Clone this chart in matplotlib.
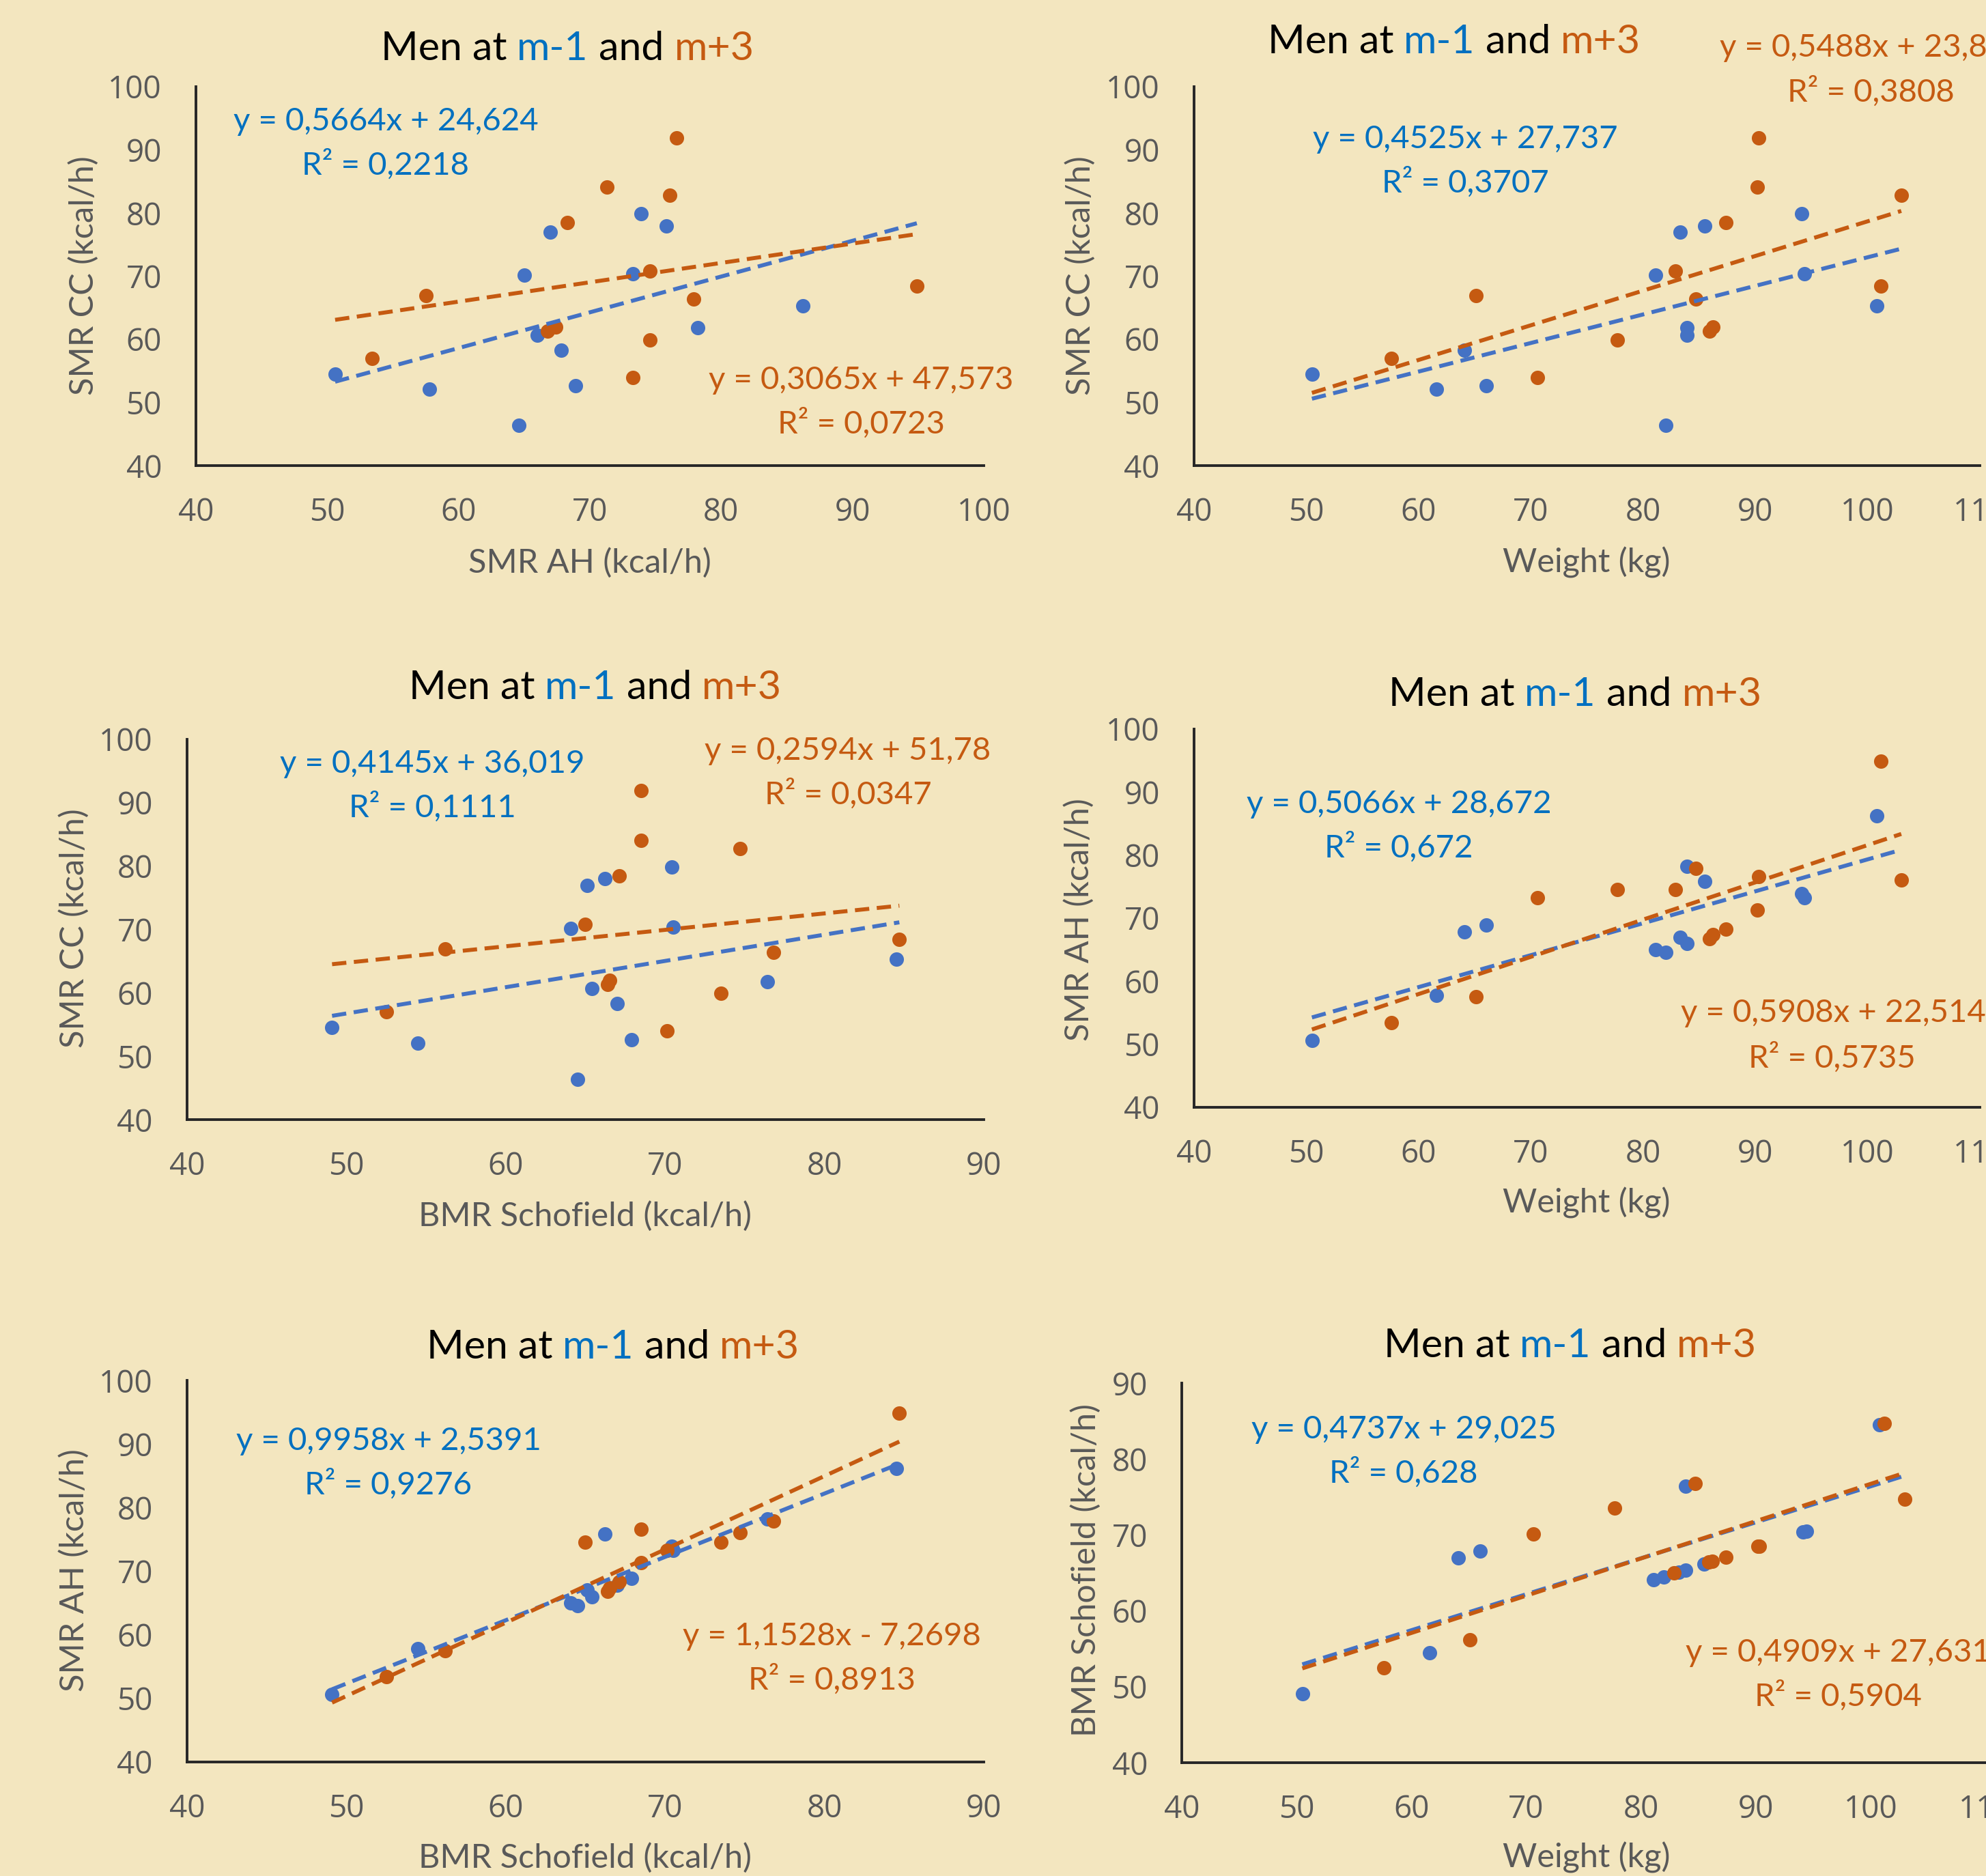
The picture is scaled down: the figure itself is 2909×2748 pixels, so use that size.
import matplotlib
matplotlib.use("Agg")
import matplotlib.pyplot as plt
import numpy as np

# --- data: 13 men, month -1 (blue) and month +3 (orange) ---
weight_m1 = [50.5, 61.6, 64.1, 66.0, 81.1, 82.0, 83.3, 83.9, 83.9, 85.5, 94.1, 94.4, 100.8]
smr_ah_m1 = [50.6, 57.8, 67.8, 68.9, 65.0, 64.6, 67.0, 66.0, 78.2, 75.8, 73.9, 73.3, 86.2]
smr_cc_m1 = [54.5, 52.1, 58.3, 52.6, 70.2, 46.4, 77.0, 60.7, 61.8, 78.0, 79.9, 70.4, 65.3]
bmr_m1 = [49.1, 54.5, 67.0, 67.9, 64.1, 64.5, 65.1, 65.4, 76.4, 66.2, 70.4, 70.5, 84.5]

weight_m3 = [57.6, 65.1, 85.9, 86.2, 87.4, 90.2, 70.6, 82.9, 77.7, 103.0, 90.3, 84.7, 101.2]
smr_ah_m3 = [53.4, 57.5, 66.8, 67.4, 68.3, 71.3, 73.3, 74.6, 74.6, 76.1, 76.6, 77.9, 94.9]
smr_cc_m3 = [57.0, 66.9, 61.3, 62.0, 78.5, 84.1, 54.0, 70.8, 59.9, 82.8, 91.9, 66.4, 68.4]
bmr_m3 = [52.5, 56.2, 66.4, 66.5, 67.1, 68.5, 70.1, 65.0, 73.5, 74.7, 68.5, 76.8, 84.7]

# trendline coefficients as printed on each panel
slope_m1 = [0.5664, 0.4525, 0.4145, 0.5066, 0.9958, 0.4737]
icpt_m1 = [24.624, 27.737, 36.019, 28.672, 2.5391, 29.025]
slope_m3 = [0.3065, 0.5488, 0.2594, 0.5908, 1.1528, 0.4909]
icpt_m3 = [47.573, 23.8, 51.78, 22.514, -7.2698, 27.631]

eq_m1 = ["y = 0,5664x + 24,624", "y = 0,4525x + 27,737", "y = 0,4145x + 36,019",
         "y = 0,5066x + 28,672", "y = 0,9958x + 2,5391", "y = 0,4737x + 29,025"]
r2_m1 = ["R² = 0,2218", "R² = 0,3707", "R² = 0,1111", "R² = 0,672", "R² = 0,9276", "R² = 0,628"]
eq_m3 = ["y = 0,3065x + 47,573", "y = 0,5488x + 23,8", "y = 0,2594x + 51,78",
         "y = 0,5908x + 22,514", "y = 1,1528x - 7,2698", "y = 0,4909x + 27,631"]
r2_m3 = ["R² = 0,0723", "R² = 0,3808", "R² = 0,0347", "R² = 0,5735", "R² = 0,8913", "R² = 0,5904"]

BLUE = "#4472C4"
BLUE_TXT = "#0070C0"
ORANGE = "#C55A11"
GREY = "#595959"
BG = "#F3E6BF"
FONT = "Lato"
TICKFONT = "Open Sans"

W, H = 2909, 2748
fig = plt.figure(figsize=(W / 100, H / 100), dpi=100)
fig.patch.set_facecolor(BG)


def fx(x):
    return x / W


def fy(y):
    return 1 - y / H


def put(x, y, s, color, size, ha="center", rot=0, family=FONT):
    return fig.text(fx(x), fy(y), s, color=color, fontsize=size, ha=ha, va="center",
                    rotation=rot, family=family)


# x, y data of each panel, axes box (left, right, bottom, top in px), limits, labels, text spots
panels = [
    dict(xs=(smr_ah_m1, smr_ah_m3), ys=(smr_cc_m1, smr_cc_m3), box=(287, 1441, 682, 127),
         xlim=(40, 100), ylim=(40, 100), xlab="SMR AH (kcal/h)", ylab="SMR CC (kcal/h)",
         xlab_at=(864, 824), ylab_at=(122, 404), title_at=(831, 72),
         eq1=(565, 178), eq3=(1261, 557), eq3_left=False),
    dict(xs=(weight_m1, weight_m3), ys=(smr_cc_m1, smr_cc_m3), box=(1749, 2900, 682, 127),
         xlim=(40, 110), ylim=(40, 100), xlab="Weight (kg)", ylab="SMR CC (kcal/h)",
         xlab_at=(2324, 824), ylab_at=(1582, 404), title_at=(2130, 61),
         eq1=(2146, 204), eq3=(2519, 70), r3=(2740, 134), eq3_left=True),
    dict(xs=(bmr_m1, bmr_m3), ys=(smr_cc_m1, smr_cc_m3), box=(274, 1441, 1640, 1083),
         xlim=(40, 90), ylim=(40, 100), xlab="BMR Schofield (kcal/h)", ylab="SMR CC (kcal/h)",
         xlab_at=(857, 1781), ylab_at=(108, 1360), title_at=(872, 1007),
         eq1=(633, 1119), eq3=(1242, 1100), eq3_left=False),
    dict(xs=(weight_m1, weight_m3), ys=(smr_ah_m1, smr_ah_m3), box=(1749, 2900, 1622, 1068),
         xlim=(40, 110), ylim=(40, 100), xlab="Weight (kg)", ylab="SMR AH (kcal/h)",
         xlab_at=(2324, 1762), ylab_at=(1580, 1347), title_at=(2307, 1018),
         eq1=(2049, 1178), eq3=(2462, 1484), r3=(2683, 1549), eq3_left=True),
    dict(xs=(bmr_m1, bmr_m3), ys=(smr_ah_m1, smr_ah_m3), box=(274, 1441, 2581, 2022),
         xlim=(40, 90), ylim=(40, 100), xlab="BMR Schofield (kcal/h)", ylab="SMR AH (kcal/h)",
         xlab_at=(857, 2721), ylab_at=(108, 2300), title_at=(898, 1974),
         eq1=(569, 2111), eq3=(1218, 2397), eq3_left=False),
    dict(xs=(weight_m1, weight_m3), ys=(bmr_m1, bmr_m3), box=(1731, 2908, 2582, 2026),
         xlim=(40, 110), ylim=(40, 90), xlab="Weight (kg)", ylab="BMR Schofield (kcal/h)",
         xlab_at=(2324, 2721), ylab_at=(1590, 2300), title_at=(2300, 1972),
         eq1=(2056, 2094), eq3=(2469, 2421), r3=(2692, 2484), eq3_left=True),
]

renderer = fig.canvas.get_renderer()

for i, p in enumerate(panels):
    l, r, b, t = p["box"]
    ax = fig.add_axes([fx(l), fy(b), (r - l) / W, (b - t) / H])
    ax.set_facecolor("none")
    ax.set_xlim(*p["xlim"])
    ax.set_ylim(*p["ylim"])
    ax.set_xticks(np.arange(p["xlim"][0], p["xlim"][1] + 1, 10))
    ax.set_yticks(np.arange(p["ylim"][0], p["ylim"][1] + 1, 10))
    for side in ("top", "right"):
        ax.spines[side].set_visible(False)
    for side in ("left", "bottom"):
        ax.spines[side].set_color("#262626")
        ax.spines[side].set_linewidth(2.8)
    ax.tick_params(length=0, labelsize=33, labelcolor=GREY)
    ax.tick_params(axis="x", pad=33)
    ax.tick_params(axis="y", pad=36)
    for lab in ax.get_xticklabels() + ax.get_yticklabels():
        lab.set_family(TICKFONT)
        lab.set_clip_on(False)

    xb, xo = p["xs"]
    yb, yo = p["ys"]
    ax.scatter(xb, yb, s=230, color=BLUE, zorder=3, clip_on=False, linewidths=0)
    ax.scatter(xo, yo, s=230, color=ORANGE, zorder=4, clip_on=False, linewidths=0)

    # both trendlines span the x range of the two series together
    xx = np.array([min(min(xb), min(xo)), max(max(xb), max(xo))])
    for m, c, col in ((slope_m1[i], icpt_m1[i], BLUE), (slope_m3[i], icpt_m3[i], ORANGE)):
        ax.plot(xx, m * xx + c, color=col, lw=4.2, dashes=(3.6, 1.9), zorder=5,
                dash_capstyle="butt")

    # axis titles
    put(*p["xlab_at"], p["xlab"], GREY, 35)
    put(*p["ylab_at"], p["ylab"], GREY, 35, rot=90)

    # trendline labels
    ex, ey = p["eq1"]
    put(ex, ey, eq_m1[i], BLUE_TXT, 34)
    put(ex, ey + 63, r2_m1[i], BLUE_TXT, 34)
    ox, oy = p["eq3"]
    if p["eq3_left"]:
        put(ox, oy, eq_m3[i], ORANGE, 34, ha="left")
        put(*p["r3"], r2_m3[i], ORANGE, 34)
    else:
        put(ox, oy, eq_m3[i], ORANGE, 34)
        put(ox, oy + 63, r2_m3[i], ORANGE, 34)

    # two-colour title
    parts = [("Men at ", "black"), ("m-1", BLUE_TXT), (" and ", "black"), ("m+3", ORANGE)]
    cx, cy = p["title_at"]
    texts = [put(0, cy, s, c, 42.5, ha="left") for s, c in parts]
    widths = [tx.get_window_extent(renderer).width for tx in texts]
    x = cx - sum(widths) / 2
    for tx, w in zip(texts, widths):
        tx.set_x(fx(x))
        x += w

fig.savefig("out.png", dpi=100, facecolor=BG)
